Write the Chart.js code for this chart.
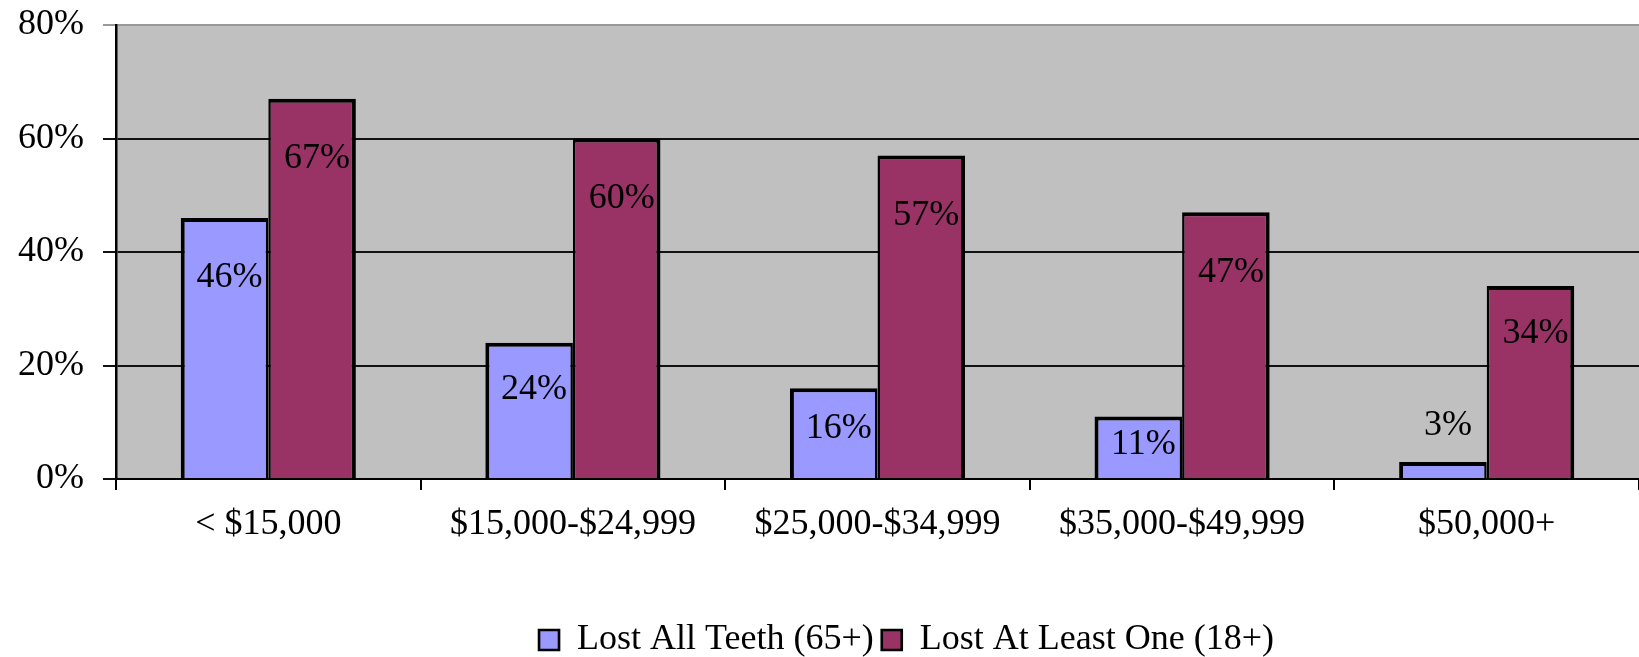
<!DOCTYPE html>
<html>
<head>
<meta charset="utf-8">
<script src="https://cdn.jsdelivr.net/npm/chart.js@4"></script>
<style>
  html, body { margin: 0; padding: 0; background: #fff; }
  #wrap { width: 1639px; height: 657px; position: relative; }
</style>
</head>
<body>
<div id="wrap"><canvas id="teethChart"></canvas></div>
<script>
const categories = ['< $15,000', '$15,000-$24,999', '$25,000-$34,999', '$35,000-$49,999', '$50,000+'];
const lostAllTeeth = [46, 24, 16, 11, 3];
const lostAtLeastOne = [67, 60, 57, 47, 34];
const yTickValues = [0, 20, 40, 60, 80];

const serif = '"Liberation Serif", "Times New Roman", serif';

// grey plot area behind the bars
const plotBackground = {
    id: 'plotBackground',
    beforeDraw(chart) {
        const { ctx, chartArea: a } = chart;
        ctx.save();
        ctx.fillStyle = '#c0c0c0';
        ctx.fillRect(a.left, a.top, a.right - a.left, a.bottom - a.top);
        ctx.restore();
    }
};

// value labels, inside the bar below the top, above it when the bar is too short
const valueLabels = {
    id: 'valueLabels',
    afterDatasetsDraw(chart) {
        const ctx = chart.ctx;
        ctx.save();
        ctx.font = '36px ' + serif;
        ctx.fillStyle = '#000';
        ctx.textAlign = 'center';
        ctx.textBaseline = 'middle';
        chart.data.datasets.forEach((ds, i) => {
            chart.getDatasetMeta(i).data.forEach((bar, j) => {
                const h = bar.base - bar.y;
                let y;
                if (h < 30) y = bar.y - 36;
                else if (h > 200) y = bar.y + 60;
                else y = bar.y + Math.min(47, h * 0.45);
                ctx.fillText(ds.data[j] + '%', bar.x + 5, y);
            });
        });
        ctx.restore();
    }
};

// move the legend to where the original sits
const legendShift = {
    id: 'legendShift',
    afterLayout(chart) {
        const lg = chart.legend;
        lg.left += 87; lg.right += 87;
        lg.top += 11; lg.bottom += 11;
    }
};

new Chart(document.getElementById('teethChart'), {
    type: 'bar',
    data: {
        labels: categories,
        datasets: [{
            label: 'Lost All Teeth (65+)',
            data: lostAllTeeth,
            backgroundColor: '#9999ff',
            borderColor: '#000',
            borderWidth: { top: 4, left: 4, right: 2.5, bottom: 0 },
            borderSkipped: 'start'
        }, {
            label: 'Lost At Least One (18+)',
            data: lostAtLeastOne,
            backgroundColor: '#993366',
            borderColor: '#000',
            borderWidth: { top: 4, left: 2.5, right: 4, bottom: 0 },
            borderSkipped: 'start'
        }]
    },
    options: {
        responsive: true,
        maintainAspectRatio: false,
        animation: false,
        layout: { padding: { top: 25, right: 0, left: 0, bottom: 0 } },
        datasets: { bar: { categoryPercentage: 0.575, barPercentage: 1 } },
        scales: {
            x: {
                afterFit: s => { s.height = 124; s.paddingLeft = 0; s.paddingRight = 0; },
                grid: { drawOnChartArea: false, drawTicks: true, tickLength: 11, color: '#000', lineWidth: 2 },
                border: { color: '#000', width: 2 },
                ticks: { color: '#000', font: { family: serif, size: 36 }, padding: 13, maxRotation: 0 }
            },
            y: {
                min: 0,
                max: 80,
                afterFit: s => { s.width = 116; s.paddingTop = 0; s.paddingBottom = 0; },
                afterBuildTicks: s => { s.ticks = yTickValues.map(v => ({ value: v })); },
                grid: {
                    color: ctx => ctx.tick && ctx.tick.value === 80 ? '#999' : '#111',
                    lineWidth: 2,
                    tickLength: 13,
                    drawTicks: true
                },
                border: { color: '#000', width: 2.5 },
                ticks: {
                    color: '#000',
                    padding: 19,
                    font: { family: serif, size: 36 },
                    callback: v => v + '%'
                }
            }
        },
        plugins: {
            legend: {
                position: 'bottom',
                labels: {
                    color: '#000',
                    font: { family: serif, size: 36 },
                    boxWidth: 20,
                    boxHeight: 20,
                    padding: 8
                }
            },
            tooltip: { enabled: false }
        }
    },
    plugins: [plotBackground, valueLabels, legendShift]
});
</script>
</body>
</html>
